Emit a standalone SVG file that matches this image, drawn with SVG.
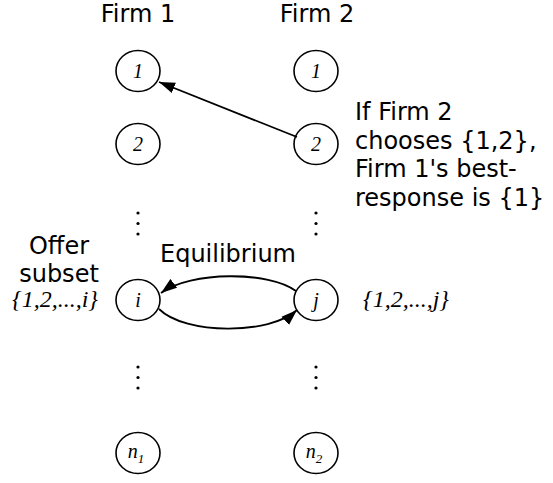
<svg xmlns="http://www.w3.org/2000/svg" width="553" height="483" viewBox="0 0 553 483">
<defs>
<style>
.node{fill:#fff;stroke:#000;stroke-width:1.6}
.lab{font-family:"Liberation Serif","Times New Roman",serif;font-style:italic;font-size:20px;text-anchor:middle;fill:#000}
.sub{font-size:13px}
.sans{font-family:"DejaVu Sans",Verdana,sans-serif;font-size:24px;fill:#000}
.set{font-family:"Liberation Serif","Times New Roman",serif;font-style:italic;font-size:24px;fill:#000}
.edge{fill:none;stroke:#000;stroke-width:1.8}
.dot{fill:#000}
</style>
<marker id="ah" markerUnits="userSpaceOnUse" markerWidth="17" markerHeight="12" refX="16" refY="6" orient="auto">
<path d="M0,0.5 L16,6 L0,11.5 z" fill="#000"/>
</marker>
</defs>

<text class="sans" x="138" y="22" text-anchor="middle">Firm 1</text>
<text class="sans" x="317" y="22" text-anchor="middle">Firm 2</text>

<g id="f1n1"><ellipse class="node" cx="138" cy="71" rx="22" ry="20.5"/><text class="lab" x="138" y="78">1</text></g>
<g id="f2n1"><ellipse class="node" cx="316" cy="71" rx="22" ry="20.5"/><text class="lab" x="316" y="78">1</text></g>
<g id="f1n2"><ellipse class="node" cx="138" cy="144" rx="22" ry="20.5"/><text class="lab" x="138" y="151">2</text></g>
<g id="f2n2"><ellipse class="node" cx="316" cy="144" rx="22" ry="20.5"/><text class="lab" x="316" y="151">2</text></g>
<g id="f1ni"><ellipse class="node" cx="138" cy="300" rx="22" ry="20.5"/><text class="lab" x="138" y="307">i</text></g>
<g id="f2nj"><ellipse class="node" cx="316" cy="300" rx="22" ry="20.5"/><text class="lab" x="316" y="307">j</text></g>
<g id="f1nn"><ellipse class="node" cx="138" cy="453" rx="22" ry="20.5"/><text class="lab" x="136" y="458">n<tspan class="sub" dy="5">1</tspan></text></g>
<g id="f2nn"><ellipse class="node" cx="316" cy="453" rx="22" ry="20.5"/><text class="lab" x="314" y="458">n<tspan class="sub" dy="5">2</tspan></text></g>

<g id="dots">
<circle class="dot" cx="138" cy="213" r="1.6"/><circle class="dot" cx="138" cy="223.5" r="1.6"/><circle class="dot" cx="138" cy="234" r="1.6"/>
<circle class="dot" cx="316" cy="213" r="1.6"/><circle class="dot" cx="316" cy="223.5" r="1.6"/><circle class="dot" cx="316" cy="234" r="1.6"/>
<circle class="dot" cx="138" cy="367" r="1.6"/><circle class="dot" cx="138" cy="377.5" r="1.6"/><circle class="dot" cx="138" cy="388" r="1.6"/>
<circle class="dot" cx="316" cy="367" r="1.6"/><circle class="dot" cx="316" cy="377.5" r="1.6"/><circle class="dot" cx="316" cy="388" r="1.6"/>
</g>

<g id="connectors">
<path class="edge" d="M297,137 L159,82" marker-end="url(#ah)"/>
<path class="edge" d="M296,291 C270,271 190,271 161,293" marker-end="url(#ah)"/>
<path class="edge" d="M159,309 C185,335 270,335 297,310" marker-end="url(#ah)"/>
</g>

<text class="sans" x="228" y="262" text-anchor="middle">Equilibrium</text>
<text class="sans" x="59" y="254" text-anchor="middle">Offer</text>
<text class="sans" x="59" y="282" text-anchor="middle">subset</text>
<text class="set" x="55" y="307" text-anchor="middle">{1,2,...,i}</text>
<text class="set" x="406" y="307" text-anchor="middle">{1,2,...,j}</text>

<text class="sans" x="355" y="120">If Firm 2</text>
<text class="sans" x="355" y="148.5">chooses {1,2},</text>
<text class="sans" x="355" y="177">Firm 1's best-</text>
<text class="sans" x="355" y="205.5">response is {1}</text>
</svg>
